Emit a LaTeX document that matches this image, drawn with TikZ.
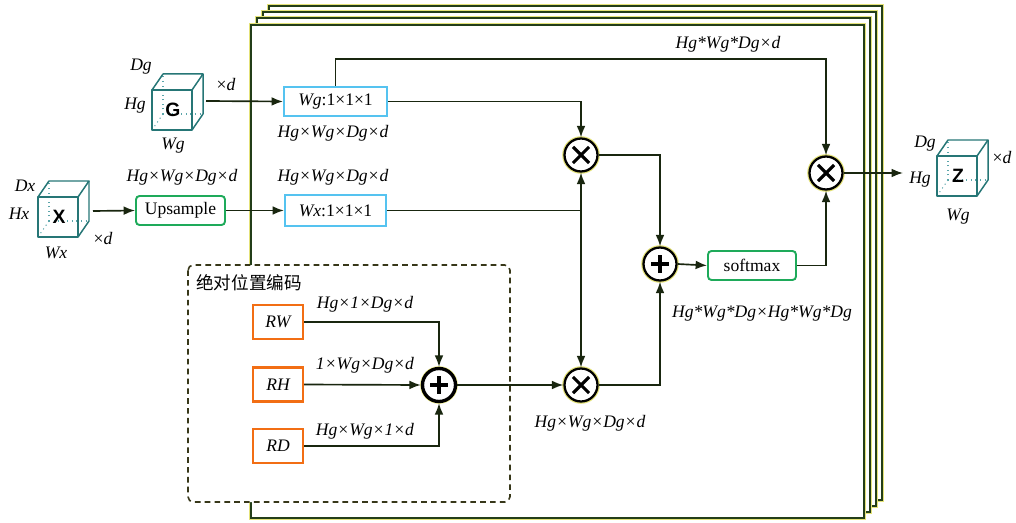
\documentclass[tikz,border=0pt]{standalone}
\usepackage{fontspec}
\setmainfont{Liberation Serif}
\setsansfont{Liberation Sans}
\newfontfamily\cjk{Noto Sans CJK SC}
\usetikzlibrary{arrows.meta,calc}
\definecolor{framec}{RGB}{35,62,25}
\definecolor{halo}{RGB}{228,226,120}
\definecolor{linec}{RGB}{25,38,15}
\definecolor{cubec}{RGB}{38,118,118}
\definecolor{cubehc}{RGB}{90,165,170}
\definecolor{bluec}{RGB}{85,195,240}
\definecolor{greenc}{RGB}{30,170,90}
\definecolor{orangec}{RGB}{242,110,20}
\definecolor{dashc}{RGB}{55,55,25}
\tikzset{
  frame/.style={draw=framec, line width=0.9pt, fill=white,
    preaction={draw=halo, line width=1.9pt}},
  conn/.style={draw=linec, line width=0.95pt},
  arr/.style={conn, -{Latex[length=6.5pt,width=5pt]}},
  cubeedge/.style={draw=cubec, line width=0.85pt, line join=round},
  cubehid/.style={draw=cubehc, line width=0.6pt, dotted},
  cubeletter/.style={font=\sffamily\bfseries\fontsize{11}{13}\selectfont, inner sep=0pt},
  lbl/.style={font=\itshape\fontsize{10}{12}\selectfont, inner sep=1pt},
  convbox/.style={draw=bluec, line width=1.2pt, fill=white, minimum height=0.58cm, inner sep=1pt, font=\fontsize{10}{12}\selectfont},
  opbox/.style={draw=greenc, line width=1.1pt, rounded corners=2pt, fill=white, minimum height=0.58cm, inner sep=1pt, font=\fontsize{10}{12}\selectfont},
  posbox/.style={draw=orangec, line width=1.3pt, fill=white, minimum width=1.0cm, minimum height=0.68cm, inner sep=1pt, font=\itshape\fontsize{10}{12}\selectfont},
  opcirc/.style={circle, draw=black, line width=1.3pt, fill=white, minimum size=0.66cm, inner sep=0pt,
    preaction={draw=halo, line width=2.6pt}},
  mulnode/.style={opcirc, path picture={
    \draw[line width=1.8pt] ($(path picture bounding box.center)+(-4.6pt,-4.6pt)$) -- ($(path picture bounding box.center)+(4.6pt,4.6pt)$);
    \draw[line width=1.8pt] ($(path picture bounding box.center)+(-4.6pt,4.6pt)$) -- ($(path picture bounding box.center)+(4.6pt,-4.6pt)$);}},
  addnode/.style={opcirc, path picture={
    \draw[line width=2pt] ($(path picture bounding box.center)+(-5pt,0)$) -- ($(path picture bounding box.center)+(5pt,0)$);
    \draw[line width=2pt] ($(path picture bounding box.center)+(0,-5pt)$) -- ($(path picture bounding box.center)+(0,5pt)$);}},
}
\newcommand\mycube[4]{% x0 y0 name letter
  \draw[cubehid] ({#1+11},{#2+24}) -- ({#1+11},{#2-16});
  \draw[cubehid] ({#1+11},{#2+24}) -- ({#1+51},{#2+24});
  \draw[cubehid] ({#1+11},{#2+24}) -- ({#1},{#2+40});
  \draw[cubeedge] (#1,#2) rectangle ({#1+40},{#2+40});
  \draw[cubeedge] (#1,#2) -- ({#1+11},{#2-16}) -- ({#1+51},{#2-16}) -- ({#1+40},#2);
  \draw[cubeedge] ({#1+51},{#2-16}) -- ({#1+51},{#2+24}) -- ({#1+40},{#2+40});
  \node[cubeletter] (#3) at ({#1+21},{#2+20}) {#4};
}
\begin{document}
\begin{tikzpicture}[x=0.02cm,y=-0.02cm]
\useasboundingbox (0,0) rectangle (1016,523);
% stacked frames
\draw[frame] (269,6) rectangle (882,500);
\draw[frame] (263,12) rectangle (876,506);
\draw[frame] (257,18) rectangle (870,512);
\draw[frame] (251,25) rectangle (864,518);
% dashed positional encoding box
\draw[draw=dashc, fill=white, line width=0.9pt, dash pattern=on 3.2pt off 2.4pt, rounded corners=3pt] (188,265) rectangle (510,502);
\node[anchor=west, font=\cjk\fontsize{10}{12}\selectfont, inner sep=0pt] (title) at (196,283) {绝对位置编码};
% cubes
\mycube{152}{90}{G}{G}
\mycube{38}{197}{X}{X}
\mycube{937}{156}{Z}{Z}
\node[lbl] (gD) at (141,67) {Dg};
\node[lbl] (gH) at (135,106) {Hg};
\node[lbl] (gW) at (173,146) {Wg};
\node[lbl] (gd) at (226,84) {\textup{×}d};
\node[lbl] (xD) at (25,186) {Dx};
\node[lbl] (xH) at (19,214) {Hx};
\node[lbl] (xW) at (56,253) {Wx};
\node[lbl] (xd) at (103,238) {\textup{×}d};
\node[lbl] (zD) at (925,144) {Dg};
\node[lbl] (zH) at (920,180) {Hg};
\node[lbl] (zW) at (958,217) {Wg};
\node[lbl] (zd) at (1002,157) {\textup{×}d};
\coordinate (Gout) at (206,101);
\coordinate (Xout) at (93,211);
\coordinate (Zin) at (903,173);
% boxes
\node[convbox, minimum width=2.06cm] (Wg) at (335.5,101.5) {\textit{Wg}:1×1×1};
\node[convbox, minimum width=2.02cm, minimum height=0.62cm] (Wx) at (335.5,210.5) {\textit{Wx}:1×1×1};
\node[opbox, minimum width=1.78cm] (up) at (180.5,210.5) {Upsample};
\node[opbox, minimum width=1.76cm] (sm) at (752,265.5) {softmax};
\node[posbox] (RW) at (278,322) {RW};
\node[posbox] (RH) at (278,384.5) {RH};
\node[posbox] (RD) at (278,446) {RD};
% operators
\node[mulnode] (m1) at (581,155) {};
\node[mulnode] (m2) at (581,385) {};
\node[mulnode] (m3) at (826,173) {};
\node[addnode] (p1) at (660,264) {};
\node[addnode, line width=1.9pt] (p2) at (439,385) {};
% labels
\node[lbl] (l1) at (182,177) {Hg×Wg×Dg×d};
\node[lbl] (l2) at (333,133) {Hg×Wg×Dg×d};
\node[lbl] (l3) at (333,177) {Hg×Wg×Dg×d};
\node[lbl] (l4) at (728,44) {Hg*Wg*Dg×d};
\node[lbl] (l5) at (590,423) {Hg×Wg×Dg×d};
\node[lbl] (l6) at (762,314) {Hg*Wg*Dg×Hg*Wg*Dg};
\node[lbl] (l7) at (365,304) {Hg×1×Dg×d};
\node[lbl] (l8) at (365,365) {1×Wg×Dg×d};
\node[lbl] (l9) at (365,431) {Hg×Wg×1×d};
% connectors
\draw[arr] (Gout) -- (Wg.west);
\draw[arr] (Xout) -- (up.west);
\draw[arr] (up.east) -- (Wx.west);
\draw[arr] (Wg.east) -| (m1.north);
\coordinate (jx) at (Wx.east -| m1.center);
\draw[conn] (Wx.east) -- (jx);
\draw[arr] (jx) -- (m1.south);
\draw[arr] (jx) -- (m2.north);
\coordinate (ty) at (0,59);
\draw[arr] (Wg.north) -- (Wg.north |- ty) -| (m3.north);
\draw[arr] (m1.east) -| (p1.north);
\draw[arr] (m2.east) -| (p1.south);
\draw[arr] (p1.east) -- (sm.west);
\draw[arr] (sm.east) -| (m3.south);
\draw[arr] (m3.east) -- (Zin);
\draw[arr] (RW.east) -| (p2.north);
\draw[arr] (RH.east) -- (p2.west);
\draw[arr] (RD.east) -| (p2.south);
\draw[arr] (p2.east) -- (m2.west);
\end{tikzpicture}
\end{document}
